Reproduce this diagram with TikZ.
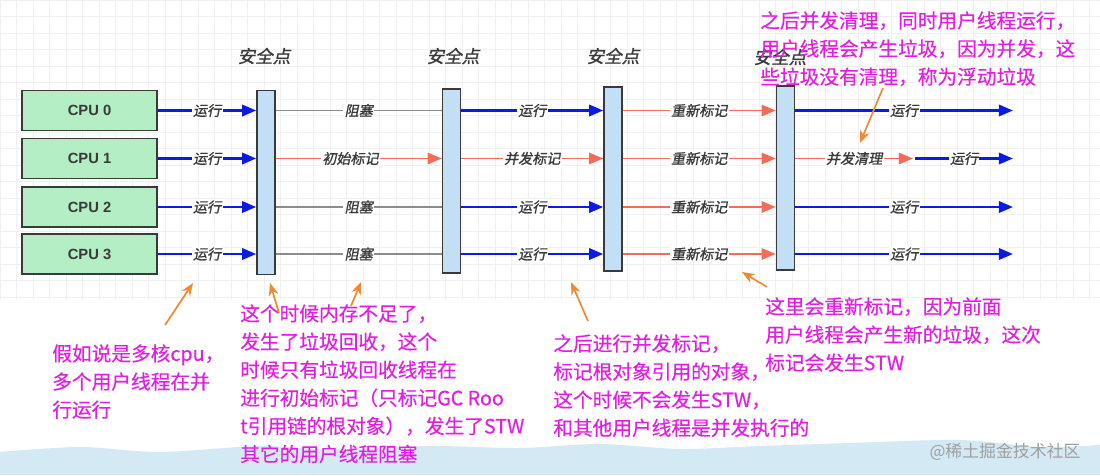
\documentclass[tikz,border=0pt]{standalone}
\usepackage{fontspec}
\usetikzlibrary{arrows.meta}
\newfontfamily\cjk[FakeBold=0.3]{Noto Sans CJK SC}
\newfontfamily\cjkplain{Noto Sans CJK SC}
\newfontfamily\cjksl[FakeSlant=0.2,FakeBold=1.2]{Noto Sans CJK SC}
\newfontfamily\cpufont{Liberation Sans}
\definecolor{cpugreen}{HTML}{B4EEC4}
\definecolor{barblue}{HTML}{C3DFF6}
\definecolor{boxline}{HTML}{3A3A3A}
\definecolor{runblue}{HTML}{0D1AE6}
\definecolor{markred}{HTML}{F26B5B}
\definecolor{waitgray}{HTML}{8C8C8C}
\definecolor{notepink}{HTML}{E21EE0}
\definecolor{callorange}{HTML}{F08A32}
\definecolor{bandblue}{HTML}{D3E9F4}
\begin{document}
\begin{tikzpicture}[x=0.025cm,y=-0.025cm,
  cpu/.style={draw=boxline, line width=1.2pt, fill=cpugreen, minimum width=3.375cm, minimum height=1cm,
    font=\cpufont\bfseries\fontsize{10.5}{12}\selectfont, text=boxline},
  safept/.style={draw=boxline, line width=1.1pt, fill=barblue, minimum width=0.45cm, minimum height=4.6cm, inner sep=0pt},
  sptitle/.style={font=\cjksl\fontsize{12.5}{14}\selectfont, text=boxline},
  lbl/.style={fill=white, inner sep=1pt, font=\cjksl\fontsize{10}{12}\selectfont, text=boxline},
  run/.style={draw=runblue, line width=1.8pt, -{Triangle[length=10pt,width=8pt]}},
  marking/.style={draw=markred, line width=1.4pt, -{Triangle[length=10pt,width=8pt]}},
  wait/.style={draw=waitgray, line width=1pt},
  note/.style={anchor=north west, align=left, inner sep=0pt, text=notepink,
    font=\cjk\fontsize{14}{20}\selectfont},
  callout/.style={draw=callorange, line width=1.2pt, -{Stealth[length=9pt,width=7pt]}}]
\useasboundingbox (0,0) rectangle (1100,475);
% grid and bottom band
\draw[gray!12, step=0.4125cm] (0,0) grid (1100,300);
\fill[white] (0,300) rectangle (1100,475);
\fill[bandblue] plot[smooth] coordinates {(0,452) (80,447) (160,452) (260,446) (340,450) (430,446) (520,448) (600,444) (680,449) (760,446) (850,443) (960,440) (1040,447) (1100,445)}
  -- (1100,475) -- (0,475) -- cycle;
\node[text=gray!75, font=\cjkplain\fontsize{12}{14}\selectfont] (wmark) at (1005,452) {@稀土掘金技术社区};
% cpus
\node[cpu] (cpu0) at (89.5,110.5) {CPU 0};
\node[cpu] (cpu1) at (89.5,158.5) {CPU 1};
\node[cpu] (cpu2) at (89.5,207) {CPU 2};
\node[cpu] (cpu3) at (89.5,254) {CPU 3};
% safe points
\node[safept] (sp1) at (266,182.5) {};
\node[safept] (sp2) at (451.5,181) {};
\node[safept] (sp3) at (613,179) {};
\node[safept] (sp4) at (785.5,178) {};
\node[sptitle] (t1) at (264,56) {安全点};
\node[sptitle] (t2) at (453,56) {安全点};
\node[sptitle] (t3) at (613,56) {安全点};
\node[sptitle] (t4) at (780,57) {安全点};
% cpu -> sp1
\draw[run] (cpu0.east) -- (cpu0.east -| sp1.west) node[lbl,midway]{运行};
\draw[run] (cpu1.east) -- (cpu1.east -| sp1.west) node[lbl,midway]{运行};
\draw[run] (cpu2.east) -- (cpu2.east -| sp1.west) node[lbl,midway]{运行};
\draw[run] (cpu3.east) -- (cpu3.east -| sp1.west) node[lbl,midway]{运行};
% sp1 -> sp2
\draw[wait] (cpu0.east -| sp1.east) -- (cpu0.east -| sp2.west) node[lbl,midway]{阻塞};
\draw[marking] (cpu1.east -| sp1.east) -- (cpu1.east -| sp2.west) node[lbl,pos=0.45]{初始标记};
\draw[wait] (cpu2.east -| sp1.east) -- (cpu2.east -| sp2.west) node[lbl,midway]{阻塞};
\draw[wait] (cpu3.east -| sp1.east) -- (cpu3.east -| sp2.west) node[lbl,midway]{阻塞};
% sp2 -> sp3
\draw[run] (cpu0.east -| sp2.east) -- (cpu0.east -| sp3.west) node[lbl,midway]{运行};
\draw[marking] (cpu1.east -| sp2.east) -- (cpu1.east -| sp3.west) node[lbl,midway]{并发标记};
\draw[run] (cpu2.east -| sp2.east) -- (cpu2.east -| sp3.west) node[lbl,midway]{运行};
\draw[run] (cpu3.east -| sp2.east) -- (cpu3.east -| sp3.west) node[lbl,midway]{运行};
% sp3 -> sp4
\draw[marking] (cpu0.east -| sp3.east) -- (cpu0.east -| sp4.west) node[lbl,midway]{重新标记};
\draw[marking] (cpu1.east -| sp3.east) -- (cpu1.east -| sp4.west) node[lbl,midway]{重新标记};
\draw[marking] (cpu2.east -| sp3.east) -- (cpu2.east -| sp4.west) node[lbl,midway]{重新标记};
\draw[marking] (cpu3.east -| sp3.east) -- (cpu3.east -| sp4.west) node[lbl,midway]{重新标记};
% after sp4
\coordinate (end0) at (1013,110.5);
\coordinate (mid1) at (913,158.5);
\coordinate (gap1) at (915,158.5);
\coordinate (end1) at (1013,158.5);
\coordinate (end2) at (1013,207);
\coordinate (end3) at (1013,254);
\draw[run] (cpu0.east -| sp4.east) -- (end0) node[lbl,midway]{运行};
\draw[marking] (cpu1.east -| sp4.east) -- (mid1) node[lbl,midway]{并发清理};
\draw[run] (gap1) -- (end1) node[lbl,midway]{运行};
\draw[run] (cpu2.east -| sp4.east) -- (end2) node[lbl,midway]{运行};
\draw[run] (cpu3.east -| sp4.east) -- (end3) node[lbl,midway]{运行};
% notes
\node[note] (note1) at (52,344) {假如说是多核cpu，\\多个用户线程在并\\行运行};
\node[note] (note2) at (240,304) {这个时候内存不足了，\\发生了垃圾回收，这个\\时候只有垃圾回收线程在\\进行初始标记（只标记GC Roo\\t引用链的根对象），发生了STW\\其它的用户线程阻塞};
\node[note] (note3) at (553,334) {之后进行并发标记，\\标记根对象引用的对象，\\这个时候不会发生STW，\\和其他用户线程是并发执行的};
\node[note] (note4) at (765,297) {这里会重新标记，因为前面\\用户线程会产生新的垃圾，这次\\标记会发生STW};
\node[note] (note5) at (760,11) {之后并发清理，同时用户线程运行，\\用户线程会产生垃圾，因为并发，这\\些垃圾没有清理，称为浮动垃圾};
% callouts
\coordinate (a1) at (165,325);
\coordinate (b1) at (193,283);
\coordinate (a2) at (279,313);
\coordinate (b2) at (270,283);
\coordinate (a3) at (351,306);
\coordinate (b3) at (361,282);
\coordinate (a4) at (588,321);
\coordinate (b4) at (571,282);
\coordinate (a5) at (767,287);
\coordinate (b5) at (742,272);
\coordinate (a6) at (883,88);
\coordinate (b6) at (860,143);
\draw[callout] (a1) -- (b1);
\draw[callout] (a2) -- (b2);
\draw[callout] (a3) -- (b3);
\draw[callout] (a4) -- (b4);
\draw[callout] (a5) -- (b5);
\draw[callout] (a6) -- (b6);
\end{tikzpicture}
\end{document}
